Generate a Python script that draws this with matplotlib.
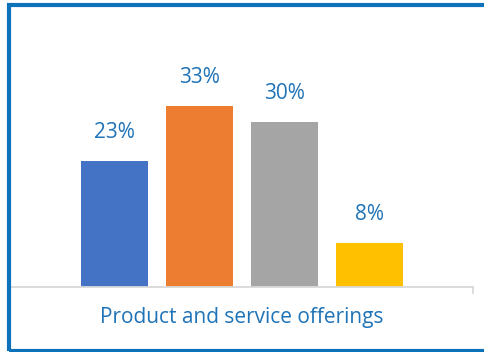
import matplotlib
matplotlib.use("Agg")
import matplotlib.pyplot as plt
from matplotlib.patches import Rectangle

category = "Product and service offerings"
values = [23, 33, 30, 8]           # percent
colors = ["#4472C4", "#ED7D31", "#A5A5A5", "#FFC000"]
positions = [0, 1, 2, 3]

W, H = 485, 352
plt.rcParams["font.family"] = ["Open Sans", "DejaVu Sans"]
fig = plt.figure(figsize=(W / 100, H / 100), dpi=100)

# plot area in pixel coordinates: baseline at y=287, axis from x=11 to x=473
left, right, bottom, top = 11, 473, 287, 30
ax = fig.add_axes([left / W, (H - bottom) / H, (right - left) / W, (bottom - top) / H])

ax.bar(positions, values, width=0.79, color=colors, zorder=2)
for x, v in zip(positions, values):
    ax.text(x, v + 5.1, f"{v}%", ha="center", va="center",
            fontsize=15, color="#1F73B7")

half = (right - left) / 85 / 2
ax.set_xlim(1.5 - half, 1.5 + half)
ax.set_ylim(0, (bottom - top) / 5.5)
ax.set_yticks([])
ax.set_xticks([])
for s in ("left", "right", "top"):
    ax.spines[s].set_visible(False)
ax.spines["bottom"].set_color("#D9D9D9")
ax.spines["bottom"].set_linewidth(1.3)
ax.plot([1, 1], [0, -0.025], transform=ax.transAxes, color="#D9D9D9",
        lw=1.3, clip_on=False)

fig.text(242 / W, 1 - 318 / H, category, ha="center", va="center",
         fontsize=15, color="#1F73B7")

# outer frame (runs off the right edge)
fig.patches.append(Rectangle((9 / W, 1 - 350.5 / H), 490 / W, 345.5 / H,
                             transform=fig.transFigure, fill=False,
                             edgecolor="#0E72BA", linewidth=3.0))

fig.savefig("out.png", dpi=100)
